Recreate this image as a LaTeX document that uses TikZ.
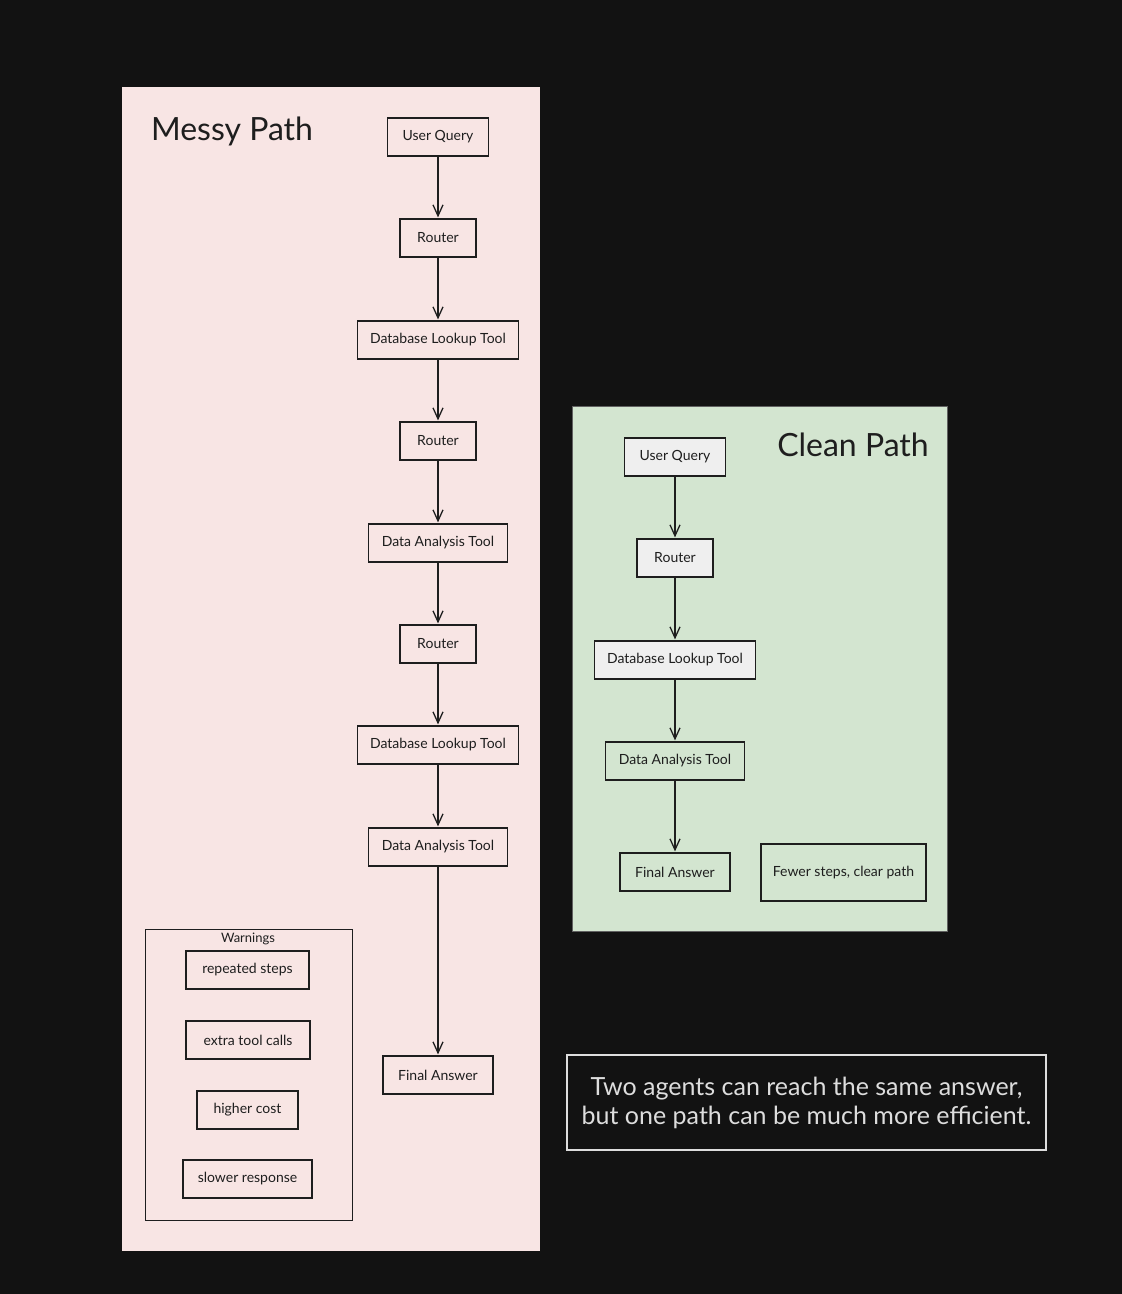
\documentclass[tikz,border=0pt]{standalone}
\usepackage{fontspec}
\setmainfont{Lato}
\usepackage{tikz}
\usetikzlibrary{arrows.meta,positioning}
\definecolor{fondo}{HTML}{121212}
\definecolor{rosa}{HTML}{F8E5E4}
\definecolor{verde}{HTML}{D3E5D0}
\definecolor{tinta}{HTML}{1E1E1E}
\definecolor{gris}{HTML}{EFEFEF}
\definecolor{tiza}{HTML}{DDDDDD}
\tikzset{
  caja/.style={draw=tinta,line width=1.2pt,minimum height=38pt,inner sep=0pt,text=tinta,font=\fontsize{14}{16}\selectfont},
  cajagris/.style={caja,fill=gris},
  flecha/.style={-{Straight Barb[length=11pt,width=10pt]},line width=1.3pt,draw=tinta,shorten >=1pt},
  titulo/.style={text=tinta,font=\fontsize{32}{36}\selectfont}
}

\begin{document}
\begin{tikzpicture}[x=1pt,y=-1pt]
\fill[fondo] (0,0) rectangle (1122,1294);
\useasboundingbox (0,0) rectangle (1122,1294);
\fill[rosa] (122,87) rectangle (540,1251);
\filldraw[fill=verde,draw=tinta!70] (572,406) rectangle (947,931);
% camino largo
\node[titulo] (tm) at (232,131) {Messy Path};
\node[caja,minimum width=101pt] (m1) at (438,137) {User Query};
\node[caja,minimum width=76pt] (m2) at (438,238) {Router};
\node[caja,minimum width=161pt] (m3) at (438,340) {Database Lookup Tool};
\node[caja,minimum width=76pt] (m4) at (438,441) {Router};
\node[caja,minimum width=139pt] (m5) at (438,543) {Data Analysis Tool};
\node[caja,minimum width=76pt] (m6) at (438,644) {Router};
\node[caja,minimum width=161pt] (m7) at (438,745) {Database Lookup Tool};
\node[caja,minimum width=139pt] (m8) at (438,847) {Data Analysis Tool};
\node[caja,minimum width=110pt] (m9) at (438,1075) {Final Answer};
\foreach \a/\b in {m1/m2,m2/m3,m3/m4,m4/m5,m5/m6,m6/m7,m7/m8,m8/m9}
  \draw[flecha] (\a) -- (\b);
% avisos
\node[draw=tinta,line width=1pt,minimum width=207pt,minimum height=291pt] (av) at (248.5,1074.5) {};
\node[text=tinta,font=\fontsize{13}{15}\selectfont] (avt) at (248,939) {Warnings};
\node[caja,minimum width=123pt] (w1) at (247.5,970) {repeated steps};
\node[caja,minimum width=124pt] (w2) at (248,1040) {extra tool calls};
\node[caja,minimum width=101pt] (w3) at (247.5,1110) {higher cost};
\node[caja,minimum width=129pt] (w4) at (247.5,1179) {slower response};
% camino corto
\node[titulo] (tc) at (853,445) {Clean Path};
\node[cajagris,minimum width=101pt] (c1) at (675,457) {User Query};
\node[cajagris,minimum width=76pt] (c2) at (675,558) {Router};
\node[cajagris,minimum width=161pt] (c3) at (675,660) {Database Lookup Tool};
\node[caja,minimum width=139pt] (c4) at (675,761) {Data Analysis Tool};
\node[caja,minimum width=110pt] (c5) at (675,872) {Final Answer};
\foreach \a/\b in {c1/c2,c2/c3,c3/c4,c4/c5}
  \draw[flecha] (\a) -- (\b);
\node[caja,minimum width=165pt,minimum height=57pt] (nota) at (843.5,872.5) {Fewer steps, clear path};
% resumen
\node[draw=tiza,line width=1.2pt,minimum width=479pt,minimum height=95pt,text=tiza,align=center,font=\fontsize{25}{29}\selectfont] (res) at (806.5,1102.5) {Two agents can reach the same answer,\\but one path can be much more efficient.};
\end{tikzpicture}
\end{document}
